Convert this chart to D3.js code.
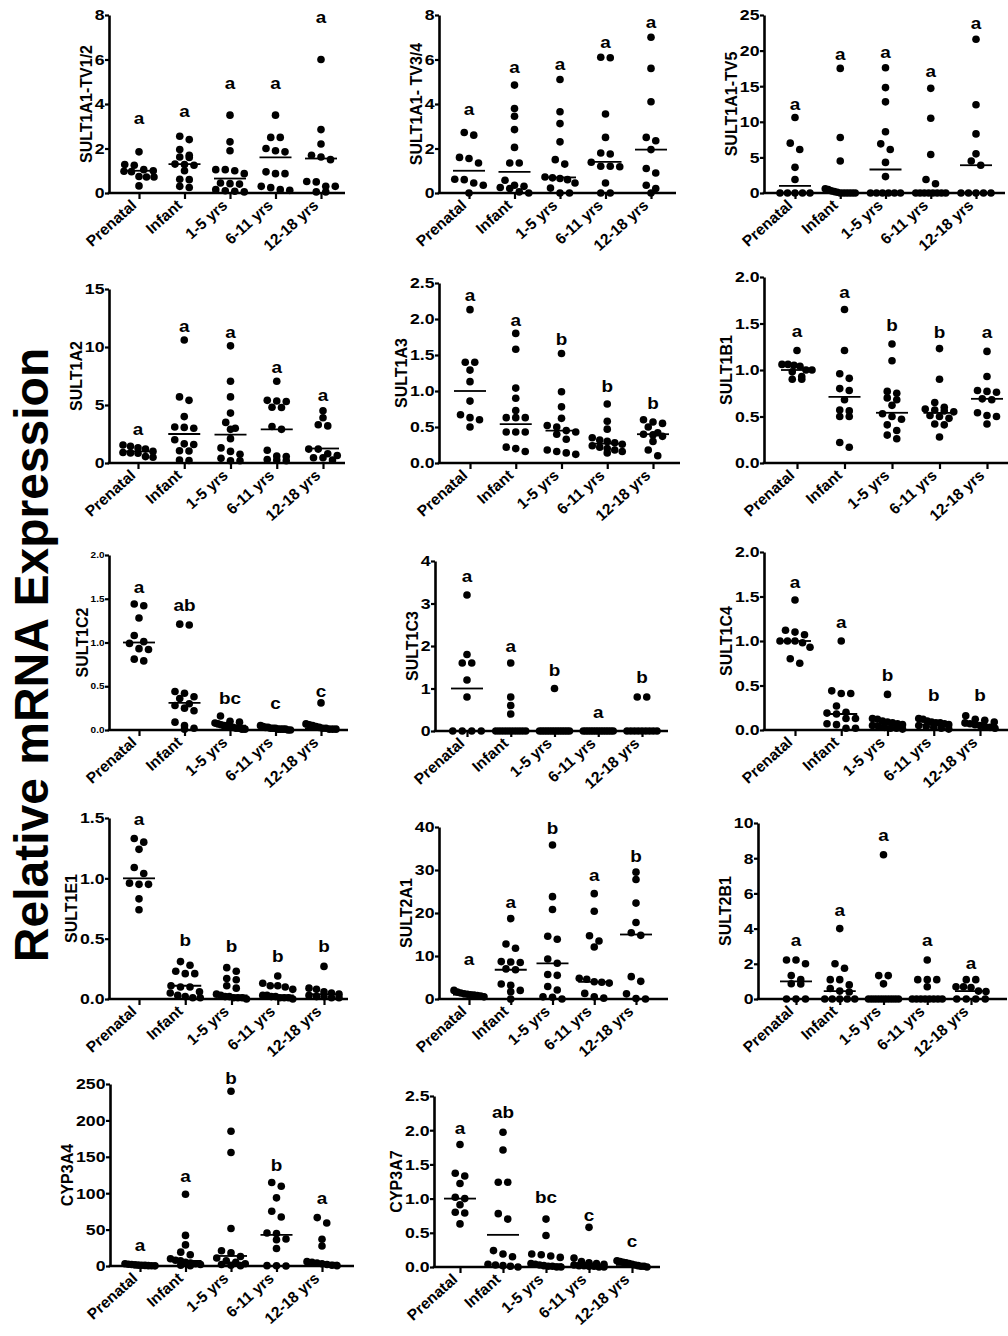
<!DOCTYPE html>
<html>
<head>
<meta charset="utf-8">
<script src="https://cdn.jsdelivr.net/npm/d3@7"></script>
<style>
  body { margin: 0; background: #fff; }
  svg text { font-family: Arial, "Liberation Sans", Helvetica, sans-serif; font-weight: bold; fill: #000; }
</style>
</head>
<body>
<svg id="fig" width="1008" height="1336"></svg>
<script>
var groups = ["Prenatal", "Infant", "1-5 yrs", "6-11 yrs", "12-18 yrs"];

// ---- values (one array per group) ----
var tv12 = [
  [1.85, 1.28, 1.25, 1.05, 1.0, 0.98, 0.96, 0.74, 0.72, 0.72, 0.32],
  [2.55, 2.4, 1.95, 1.7, 1.62, 1.6, 1.3, 1.28, 1.25, 1.0, 0.62, 0.6, 0.3, 0.25],
  [3.5, 2.3, 1.9, 1.05, 1.05, 1.0, 0.87, 0.45, 0.42, 0.4, 0.15, 0.1, 0.08, 0.05],
  [3.5, 2.5, 2.5, 2.0, 1.9, 1.85, 0.95, 0.87, 0.87, 0.3, 0.24, 0.15, 0.12],
  [6.0, 2.85, 2.2, 1.7, 1.62, 1.5, 0.52, 0.5, 0.3, 0.3, 0.05, 0.05]
];
var tv12Line = [1.0, 1.3, 0.65, 1.6, 1.55];
var tv12Letters = ["a", "a", "a", "a", "a"];
var tv12LetterAt = [3.3, 3.64, 4.9, 4.9, 7.84];

var tv34 = [
  [2.72, 2.6, 1.6, 1.55, 1.35, 0.62, 0.6, 0.45, 0.35, 0.0],
  [4.85, 3.8, 3.45, 2.85, 2.05, 1.35, 1.35, 0.57, 0.35, 0.3, 0.25, 0.2, 0.05, 0.0],
  [5.1, 3.65, 3.12, 2.3, 1.5, 1.3, 0.72, 0.68, 0.65, 0.6, 0.45, 0.22, 0.0, 0.0],
  [6.1, 6.08, 3.55, 2.5, 1.8, 1.75, 1.38, 1.2, 1.2, 1.18, 0.45, 0.0, 0.0],
  [7.0, 5.6, 4.1, 2.5, 2.35, 1.95, 1.1, 0.9, 0.35, 0.2, 0.0]
];
var tv34Line = [1.0, 0.95, 0.7, 1.4, 1.95];
var tv34Letters = ["a", "a", "a", "a", "a"];
var tv34LetterAt = [3.7, 5.6, 5.74, 6.74, 7.64];

var tv5 = [
  [10.6, 7.0, 6.1, 3.6, 1.9, 0, 0, 0, 0, 0],
  [17.5, 7.8, 4.5, 0.6, 0.5, 0.3, 0.2, 0.1, 0, 0, 0, 0, 0, 0],
  [17.6, 14.8, 12.8, 8.6, 6.9, 6.1, 4.3, 2.3, 0, 0, 0, 0, 0, 0],
  [14.7, 10.5, 5.4, 1.9, 1.3, 0, 0, 0, 0, 0, 0, 0, 0],
  [21.6, 12.4, 8.3, 5.5, 4.5, 3.9, 0, 0, 0, 0, 0]
];
var tv5Line = [1.0, 0.3, 3.3, 0.1, 3.9];
var tv5Letters = ["a", "a", "a", "a", "a"];
var tv5LetterAt = [12.3, 19.4, 19.7, 17.0, 23.7];

var s1a2 = [
  [1.55, 1.45, 1.3, 1.2, 1.0, 0.9, 0.87, 0.85, 0.55, 0.5],
  [10.6, 5.7, 5.4, 4.0, 3.1, 3.07, 3.0, 2.0, 1.65, 1.6, 1.05, 1.04, 0.25, 0.22],
  [10.1, 7.05, 5.7, 4.3, 3.5, 3.0, 2.9, 2.1, 1.3, 1.0, 0.75, 0.4, 0.2, 0.2],
  [7.05, 5.4, 5.35, 5.3, 4.8, 4.78, 3.15, 2.9, 1.1, 0.6, 0.55, 0.3, 0.25, 0.2],
  [4.5, 3.9, 3.3, 3.2, 1.2, 1.2, 0.8, 0.65, 0.45, 0.45, 0.25]
];
var s1a2Line = [1.0, 2.5, 2.45, 2.9, 1.25];
var s1a2Letters = ["a", "a", "a", "a", "a"];
var s1a2LetterAt = [2.84, 11.67, 11.2, 8.2, 5.8];

var s1a3 = [
  [2.13, 1.4, 1.4, 1.29, 1.13, 0.86, 0.67, 0.63, 0.6, 0.5],
  [1.8, 1.58, 1.04, 0.9, 0.73, 0.63, 0.63, 0.63, 0.43, 0.43, 0.43, 0.22, 0.2, 0.16],
  [1.52, 0.99, 0.78, 0.62, 0.52, 0.5, 0.45, 0.43, 0.4, 0.33, 0.18, 0.16, 0.14, 0.12],
  [0.82, 0.58, 0.47, 0.35, 0.32, 0.3, 0.28, 0.26, 0.24, 0.22, 0.2, 0.18, 0.16, 0.14],
  [0.6, 0.57, 0.55, 0.5, 0.42, 0.4, 0.39, 0.37, 0.3, 0.18, 0.1]
];
var s1a3Line = [1.0, 0.54, 0.45, 0.27, 0.4];
var s1a3Letters = ["a", "a", "b", "b", "b"];
var s1a3LetterAt = [2.32, 1.97, 1.71, 1.05, 0.82];

var s1b1 = [
  [1.21, 1.06, 1.06, 1.05, 1.04, 1.0, 1.0, 0.98, 0.93, 0.9, 0.9],
  [1.65, 1.21, 0.96, 0.91, 0.8, 0.78, 0.68, 0.57, 0.56, 0.5, 0.5, 0.22, 0.17],
  [1.28, 1.1, 0.77, 0.75, 0.7, 0.68, 0.62, 0.53, 0.5, 0.47, 0.41, 0.35, 0.3, 0.26],
  [1.23, 0.9, 0.65, 0.6, 0.58, 0.57, 0.56, 0.55, 0.51, 0.5, 0.48, 0.42, 0.41, 0.28],
  [1.2, 0.93, 0.78, 0.77, 0.76, 0.69, 0.68, 0.54, 0.51, 0.5, 0.42]
];
var s1b1Line = [1.0, 0.71, 0.54, 0.54, 0.69];
var s1b1Letters = ["a", "a", "b", "b", "a"];
var s1b1LetterAt = [1.41, 1.83, 1.47, 1.4, 1.4];

var s1c2 = [
  [1.44, 1.42, 1.28, 1.08, 1.01, 0.99, 0.93, 0.92, 0.81, 0.79],
  [1.21, 1.2, 0.44, 0.42, 0.38, 0.36, 0.3, 0.28, 0.25, 0.22, 0.09, 0.05, 0.02, 0.01],
  [0.16, 0.1, 0.09, 0.08, 0.07, 0.06, 0.05, 0.05, 0.04, 0.03, 0.02, 0.02, 0.01, 0.01],
  [0.05, 0.04, 0.03, 0.03, 0.02, 0.02, 0.02, 0.01, 0.01, 0.01, 0.01, 0.0, 0.0],
  [0.31, 0.07, 0.06, 0.05, 0.04, 0.03, 0.02, 0.02, 0.01, 0.01, 0.01]
];
var s1c2Line = [1.0, 0.31, 0.05, 0.02, 0.02];
var s1c2Letters = ["a", "ab", "bc", "c", "c"];
var s1c2LetterAt = [1.62, 1.42, 0.35, 0.29, 0.43];

var s1c3 = [
  [3.2, 1.8, 1.6, 1.6, 1.2, 0.8, 0, 0, 0, 0],
  [1.6, 0.8, 0.6, 0.4, 0, 0, 0, 0, 0, 0, 0, 0, 0, 0],
  [1.0, 0, 0, 0, 0, 0, 0, 0, 0, 0, 0, 0, 0, 0],
  [0, 0, 0, 0, 0, 0, 0, 0, 0, 0, 0, 0, 0],
  [0.8, 0.8, 0, 0, 0, 0, 0, 0, 0, 0, 0]
];
var s1c3Line = [1.0, 0, 0, 0, 0];
var s1c3Letters = ["a", "a", "b", "a", "b"];
var s1c3LetterAt = [3.62, 1.98, 1.41, 0.41, 1.25];

var s1c4 = [
  [1.46, 1.12, 1.1, 1.07, 1.0, 1.0, 1.0, 0.98, 0.93, 0.8, 0.75],
  [1.0, 0.44, 0.41, 0.41, 0.27, 0.2, 0.19, 0.18, 0.13, 0.13, 0.07, 0.06, 0.02, 0.02],
  [0.4, 0.13, 0.12, 0.1, 0.09, 0.08, 0.07, 0.06, 0.05, 0.04, 0.03, 0.02, 0.02, 0.01],
  [0.13, 0.12, 0.1, 0.09, 0.08, 0.08, 0.07, 0.06, 0.05, 0.04, 0.03, 0.02, 0.01],
  [0.16, 0.12, 0.11, 0.09, 0.08, 0.07, 0.06, 0.05, 0.04, 0.03, 0.02]
];
var s1c4Line = [1.0, 0.18, 0.07, 0.06, 0.05];
var s1c4Letters = ["a", "a", "b", "b", "b"];
var s1c4LetterAt = [1.65, 1.2, 0.6, 0.38, 0.38];

var s1e1 = [
  [1.33, 1.3, 1.24, 1.09, 1.04, 0.96, 0.95, 0.95, 0.83, 0.74],
  [0.31, 0.28, 0.23, 0.21, 0.21, 0.11, 0.1, 0.1, 0.06, 0.05, 0.03, 0.02, 0.01, 0.01],
  [0.26, 0.23, 0.17, 0.16, 0.11, 0.09, 0.04, 0.03, 0.02, 0.02, 0.01, 0.01, 0.01, 0.0],
  [0.19, 0.13, 0.11, 0.11, 0.1, 0.08, 0.03, 0.03, 0.02, 0.02, 0.01, 0.01, 0.01, 0.0],
  [0.27, 0.09, 0.08, 0.06, 0.05, 0.04, 0.03, 0.02, 0.02, 0.01, 0.01]
];
var s1e1Line = [1.0, 0.11, 0.03, 0.03, 0.04];
var s1e1Letters = ["a", "b", "b", "b", "b"];
var s1e1LetterAt = [1.48, 0.48, 0.43, 0.35, 0.43];

var s2a1 = [
  [2.0, 1.6, 1.4, 1.2, 1.1, 1.0, 0.9, 0.8, 0.7, 0.5],
  [18.7, 12.8, 11.8, 8.7, 8.6, 8.5, 7.0, 6.8, 3.5, 3.2, 2.0, 1.7, 0.0],
  [35.8, 23.8, 20.8, 14.6, 13.9, 9.3, 8.3, 5.7, 5.5, 2.9, 2.1, 0.5, 0.4, 0.0],
  [24.5, 20.4, 14.7, 13.5, 12.1, 4.8, 4.6, 4.0, 3.9, 3.7, 1.3, 0.5, 0.2],
  [29.5, 27.8, 22.3, 17.8, 15.4, 14.8, 5.2, 4.1, 1.2, 0.1, 0.0]
];
var s2a1Line = [1.0, 6.8, 8.3, 4.0, 15.0];
var s2a1Letters = ["a", "a", "b", "a", "b"];
var s2a1LetterAt = [9.05, 22.35, 39.6, 28.5, 33.0];

var s2b1 = [
  [2.22, 2.22, 2.0, 1.33, 1.1, 0.87, 0.85, 0.0, 0.0, 0.0],
  [4.0, 2.0, 1.75, 1.1, 1.1, 0.8, 0.6, 0.45, 0.4, 0, 0, 0, 0, 0],
  [8.2, 1.33, 1.33, 0.86, 0, 0, 0, 0, 0, 0, 0, 0, 0, 0],
  [2.22, 1.1, 1.1, 1.1, 0.7, 0, 0, 0, 0, 0, 0, 0, 0],
  [1.1, 1.1, 0.7, 0.7, 0.65, 0.45, 0.42, 0.0, 0.0, 0.0, 0.0]
];
var s2b1Line = [1.0, 0.45, 0, 0, 0.45];
var s2b1Letters = ["a", "a", "a", "a", "a"];
var s2b1LetterAt = [3.26, 4.97, 9.24, 3.26, 2.0];

var c3a4 = [
  [3, 2.5, 2, 1.5, 1.2, 1.0, 0.8, 0.5, 0.3, 0.2],
  [98.6, 42, 29, 19, 15.5, 10, 8, 7, 5, 4, 3, 2, 1, 0.5],
  [240, 185, 156, 51.5, 21, 18, 13, 11, 7, 5, 3, 2, 1, 0.5],
  [114.7, 109.6, 93.6, 75.2, 67.4, 45.4, 44.5, 37, 36, 24, 0.5, 0.3, 0.0],
  [66.5, 59, 36.7, 27.5, 6, 5, 4, 3, 2, 1, 0.5]
];
var c3a4Line = [1, 7, 13.8, 42.7, 4.5];
var c3a4Letters = ["a", "a", "b", "b", "a"];
var c3a4LetterAt = [27.5, 121.6, 256, 137.6, 91.7];

var c3a7 = [
  [1.79, 1.37, 1.33, 1.22, 1.02, 1.0, 0.91, 0.8, 0.79, 0.63],
  [1.97, 1.71, 1.24, 1.24, 0.78, 0.7, 0.24, 0.19, 0.15, 0.04, 0.03, 0.02, 0.01, 0.0],
  [0.7, 0.46, 0.19, 0.18, 0.16, 0.14, 0.05, 0.04, 0.03, 0.02, 0.01, 0.01, 0.0, 0.0],
  [0.58, 0.13, 0.08, 0.06, 0.05, 0.04, 0.03, 0.02, 0.02, 0.01, 0.01, 0.0, 0.0],
  [0.09, 0.08, 0.07, 0.06, 0.05, 0.04, 0.03, 0.02, 0.01, 0.01, 0.0]
];
var c3a7Line = [1.0, 0.47, 0.04, 0.03, 0.03];
var c3a7Letters = ["a", "ab", "bc", "c", "c"];
var c3a7LetterAt = [2.02, 2.25, 1.0, 0.75, 0.36];

// ---- panel placement (figure is a montage of separate plots) ----
var panels = [
  {title: "SULT1A1-TV1/2", vals: tv12, line: tv12Line, letters: tv12Letters, letterAt: tv12LetterAt, max: 8, step: 2, fmt: "d",
   left: 109, top: 15, bottom: 193, x0: 139, x1: 321, right: 345},
  {title: "SULT1A1- TV3/4", vals: tv34, line: tv34Line, letters: tv34Letters, letterAt: tv34LetterAt, max: 8, step: 2, fmt: "d",
   left: 439, top: 15, bottom: 193, x0: 469, x1: 651, right: 676},
  {title: "SULT1A1-TV5", vals: tv5, line: tv5Line, letters: tv5Letters, letterAt: tv5LetterAt, max: 25, step: 5, fmt: "d",
   left: 764, top: 15, bottom: 193, x0: 795, x1: 976, right: 1005},
  {title: "SULT1A2", vals: s1a2, line: s1a2Line, letters: s1a2Letters, letterAt: s1a2LetterAt, max: 15, step: 5, fmt: "d",
   left: 109, top: 289, bottom: 463, x0: 138, x1: 323, right: 345},
  {title: "SULT1A3", vals: s1a3, line: s1a3Line, letters: s1a3Letters, letterAt: s1a3LetterAt, max: 2.5, step: 0.5, fmt: ".1f",
   left: 439, top: 283, bottom: 463, x0: 470, x1: 653, right: 680},
  {title: "SULT1B1", vals: s1b1, line: s1b1Line, letters: s1b1Letters, letterAt: s1b1LetterAt, max: 2, step: 0.5, fmt: ".1f",
   left: 764, top: 277, bottom: 463, x0: 797, x1: 987, right: 1008},
  {title: "SULT1C2", vals: s1c2, line: s1c2Line, letters: s1c2Letters, letterAt: s1c2LetterAt, max: 2, step: 0.5, fmt: ".1f",
   left: 109, top: 555, bottom: 730, x0: 139, x1: 321, right: 348, small: true},
  {title: "SULT1C3", vals: s1c3, line: s1c3Line, letters: s1c3Letters, letterAt: s1c3LetterAt, max: 4, step: 1, fmt: "d",
   left: 435, top: 561, bottom: 731, x0: 467, x1: 642, right: 668},
  {title: "SULT1C4", vals: s1c4, line: s1c4Line, letters: s1c4Letters, letterAt: s1c4LetterAt, max: 2, step: 0.5, fmt: ".1f",
   left: 764, top: 552, bottom: 730, x0: 795, x1: 980, right: 1008},
  {title: "SULT1E1", vals: s1e1, line: s1e1Line, letters: s1e1Letters, letterAt: s1e1LetterAt, max: 1.5, step: 0.5, fmt: ".1f",
   left: 109, top: 818, bottom: 999, x0: 139, x1: 324, right: 348},
  {title: "SULT2A1", vals: s2a1, line: s2a1Line, letters: s2a1Letters, letterAt: s2a1LetterAt, max: 40, step: 10, fmt: "d",
   left: 439, top: 827, bottom: 999, x0: 469, x1: 636, right: 668},
  {title: "SULT2B1", vals: s2b1, line: s2b1Line, letters: s2b1Letters, letterAt: s2b1LetterAt, max: 10, step: 2, fmt: "d",
   left: 758, top: 823, bottom: 999, x0: 796, x1: 971, right: 1007},
  {title: "CYP3A4", vals: c3a4, line: c3a4Line, letters: c3a4Letters, letterAt: c3a4LetterAt, max: 250, step: 50, fmt: "d",
   left: 110, top: 1084, bottom: 1266, x0: 140, x1: 322, right: 354},
  {title: "CYP3A7", vals: c3a7, line: c3a7Line, letters: c3a7Letters, letterAt: c3a7LetterAt, max: 2.5, step: 0.5, fmt: ".1f",
   left: 434, top: 1096, bottom: 1267, x0: 460, x1: 632, right: 660}
];

var svg = d3.select("#fig");
var wide = 1.18;   // the exported figure is a little stretched sideways

// spread points that sit at about the same height into a row (prism style)
function spread(vals, y) {
  var pts = vals.map(function(v) { return {v: v, py: y(v)}; })
    .sort(function(a, b) { return a.py - b.py; });
  var rows = [];
  pts.forEach(function(p) {
    var row = rows[rows.length - 1];
    if (row && p.py - row[0].py < 6.5) row.push(p); else rows.push([p]);
  });
  rows.forEach(function(row) {
    var n = row.length, gap = n > 1 ? Math.min(9.5, 30 / (n - 1)) : 0;
    row.forEach(function(p, i) { p.dx = (i - (n - 1) / 2) * gap; });
  });
  return pts;
}

panels.forEach(function(p) {
  var g = svg.append("g");

  var x = d3.scalePoint().domain(groups).range([p.x0, p.x1]);
  var y = d3.scaleLinear().domain([0, p.max]).range([p.bottom, p.top]);

  // y axis
  var yAxis = g.append("g")
    .attr("transform", "translate(" + p.left + ",0)")
    .call(d3.axisLeft(y)
      .tickValues(d3.range(0, p.max + p.step / 2, p.step))
      .tickFormat(d3.format(p.fmt))
      .tickSize(4).tickSizeOuter(0).tickPadding(1));
  yAxis.select(".domain").attr("stroke-width", 2.6).attr("stroke", "#000");
  yAxis.selectAll(".tick line").attr("stroke-width", 2.2).attr("stroke", "#000");
  yAxis.selectAll(".tick text")
    .attr("x", -4.5 / wide)
    .attr("transform", "scale(" + wide + ",1)")
    .style("font-size", p.small ? "8.5px" : "15px")
    .style("font-family", "Arial, 'Liberation Sans', sans-serif")
    .style("font-weight", "bold");

  // x axis
  var xAxis = g.append("g")
    .attr("transform", "translate(0," + p.bottom + ")")
    .call(d3.axisBottom(x).tickSize(6).tickSizeOuter(0));
  xAxis.select(".domain").remove();
  xAxis.append("line")
    .attr("x1", p.left - 1.3).attr("x2", p.right)
    .attr("stroke", "#000").attr("stroke-width", 2.6);
  xAxis.selectAll(".tick line").attr("stroke-width", 2.2).attr("stroke", "#000");
  xAxis.selectAll(".tick text")
    .attr("x", 0).attr("y", 0)
    .attr("dy", "0.4em").attr("dx", "-0.1em")
    .style("font-size", "15.5px")
    .style("font-family", "Arial, 'Liberation Sans', sans-serif")
    .style("font-weight", "bold")
    .style("text-anchor", "end")
    .attr("transform", "translate(-5,8) rotate(-42)");

  // y title, left of the tick labels
  var bb = yAxis.node().getBBox();
  g.append("text")
    .attr("transform", "translate(" + (p.left + bb.x - 3) + "," + ((p.top + p.bottom) / 2) + ") rotate(-90)")
    .attr("text-anchor", "middle")
    .style("font-size", "16px")
    .text(p.title);

  // points
  groups.forEach(function(grp, i) {
    var pts = spread(p.vals[i], y);
    g.append("g").selectAll("circle")
      .data(pts)
      .join("circle")
      .attr("cx", function(d) { return x(grp) + d.dx; })
      .attr("cy", function(d) { return d.py; })
      .attr("r", 3.8)
      .attr("fill", "#000");

    g.append("line")
      .attr("x1", x(grp) - 16).attr("x2", x(grp) + 16)
      .attr("y1", y(p.line[i])).attr("y2", y(p.line[i]))
      .attr("stroke", "#000").attr("stroke-width", 1.8);

    g.append("text")
      .attr("transform", "translate(" + x(grp) + "," + y(p.letterAt[i]) + ") scale(" + wide + ",1)")
      .attr("dy", "0.3em")
      .attr("text-anchor", "middle")
      .style("font-size", "16px")
      .text(p.letters[i]);
  });
});

svg.append("text")
  .attr("transform", "translate(48,655) rotate(-90)")
  .attr("text-anchor", "middle")
  .style("font-size", "48px")
  .text("Relative mRNA Expression");
</script>
</body>
</html>
